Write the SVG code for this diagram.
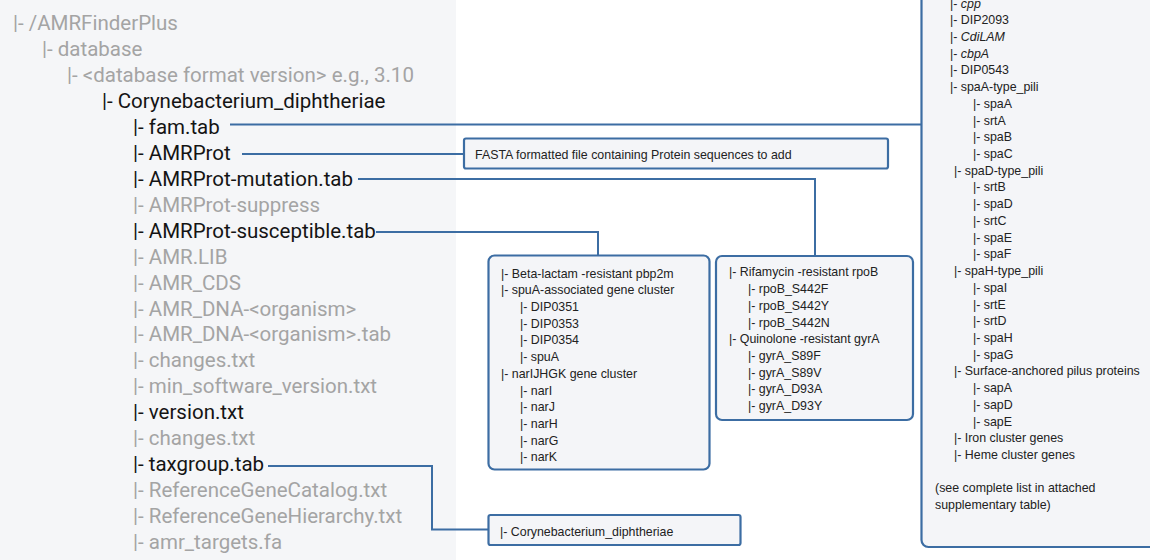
<svg xmlns="http://www.w3.org/2000/svg" width="1150" height="560" viewBox="0 0 1150 560">
<style>
.tree{font-family:Roboto,"Liberation Sans",sans-serif;font-size:20.5px}
.g{fill:#a4a4a4}
.k{fill:#141414}
.box{fill:#f4f5f8;stroke:#3c6da3;stroke-width:2.2}
.bt{font-family:"Liberation Sans",Arial,sans-serif;font-size:12.4px;fill:#222}
.conn{fill:none;stroke:#3c6da3;stroke-width:2}
</style>
<rect x="0" y="0" width="1150" height="560" fill="#ffffff"/>
<rect x="0" y="0" width="456" height="560" fill="#f5f6f8"/>

<g id="tree" class="tree">
<text class="g" x="13" y="30">|- /AMRFinderPlus</text>
<text class="g" x="42" y="56">|- database</text>
<text class="g" x="67" y="82">|- &lt;database format version&gt; e.g., 3.10</text>
<text class="k" x="102" y="108">|- Corynebacterium_diphtheriae</text>
<text class="k" x="133" y="134">|- fam.tab</text>
<text class="k" x="133" y="160">|- AMRProt</text>
<text class="k" x="133" y="186">|- AMRProt-mutation.tab</text>
<text class="g" x="133" y="212">|- AMRProt-suppress</text>
<text class="k" x="133" y="238">|- AMRProt-susceptible.tab</text>
<text class="g" x="133" y="264">|- AMR.LIB</text>
<text class="g" x="133" y="290">|- AMR_CDS</text>
<text class="g" x="133" y="316">|- AMR_DNA-&lt;organism&gt;</text>
<text class="g" x="133" y="341">|- AMR_DNA-&lt;organism&gt;.tab</text>
<text class="g" x="133" y="367">|- changes.txt</text>
<text class="g" x="133" y="393">|- min_software_version.txt</text>
<text class="k" x="133" y="419">|- version.txt</text>
<text class="g" x="133" y="445">|- changes.txt</text>
<text class="k" x="133" y="471">|- taxgroup.tab</text>
<text class="g" x="133" y="497">|- ReferenceGeneCatalog.txt</text>
<text class="g" x="133" y="523">|- ReferenceGeneHierarchy.txt</text>
<text class="g" x="133" y="549">|- amr_targets.fa</text>
</g>

<g id="connectors">
<path class="conn" d="M230 124.5 H922"/>
<path class="conn" d="M242 154 H464"/>
<path class="conn" d="M358 179 H815 V256"/>
<path class="conn" d="M376 232 H598 V256"/>
<path class="conn" d="M268 466 H432 V529.5 H489"/>
</g>

<g id="fasta-box">
<rect class="box" x="464" y="138.5" width="424" height="30" rx="2"/>
<text class="bt" x="475" y="158.5">FASTA formatted file containing Protein sequences to add</text>
</g>

<g id="susceptible-box">
<rect class="box" x="488.5" y="255.5" width="221" height="214" rx="6"/>
<text class="bt" x="501" y="277.5">|- Beta-lactam -resistant  pbp2m</text>
<text class="bt" x="501" y="294.2">|- spuA-associated  gene cluster</text>
<text class="bt" x="520" y="310.9">|- DIP0351</text>
<text class="bt" x="520" y="327.7">|- DIP0353</text>
<text class="bt" x="520" y="344.4">|- DIP0354</text>
<text class="bt" x="520" y="361.1">|- spuA</text>
<text class="bt" x="501" y="377.8">|- narIJHGK  gene cluster</text>
<text class="bt" x="520" y="394.5">|- narI</text>
<text class="bt" x="520" y="411.3">|- narJ</text>
<text class="bt" x="520" y="428">|- narH</text>
<text class="bt" x="520" y="444.7">|- narG</text>
<text class="bt" x="520" y="461.4">|- narK</text>
</g>

<g id="mutation-box">
<rect class="box" x="716" y="256" width="197" height="164" rx="6"/>
<text class="bt" x="729" y="276.3">|- Rifamycin -resistant  rpoB</text>
<text class="bt" x="748" y="293">|- rpoB_S442F</text>
<text class="bt" x="748" y="309.7">|- rpoB_S442Y</text>
<text class="bt" x="748" y="326.5">|- rpoB_S442N</text>
<text class="bt" x="729" y="343.2">|- Quinolone -resistant  gyrA</text>
<text class="bt" x="748" y="359.9">|- gyrA_S89F</text>
<text class="bt" x="748" y="376.6">|- gyrA_S89V</text>
<text class="bt" x="748" y="393.3">|- gyrA_D93A</text>
<text class="bt" x="748" y="410">|- gyrA_D93Y</text>
</g>

<g id="taxgroup-box">
<rect class="box" x="488.5" y="515" width="252" height="30" rx="2"/>
<text class="bt" x="500" y="536">|- Corynebacterium_diphtheriae</text>
</g>

<g id="fam-box">
<rect class="box" x="921.5" y="-20" width="260" height="567" rx="7"/>
<text class="bt" x="950" y="7.5">|- <tspan font-style="italic">cpp</tspan></text>
<text class="bt" x="950" y="24.2">|- DIP2093</text>
<text class="bt" x="950" y="41">|- <tspan font-style="italic">CdiLAM</tspan></text>
<text class="bt" x="950" y="57.7">|- <tspan font-style="italic">cbpA</tspan></text>
<text class="bt" x="950" y="74.4">|- DIP0543</text>
<text class="bt" x="950" y="91.1">|- spaA-type_pili</text>
<text class="bt" x="973" y="107.8">|- spaA</text>
<text class="bt" x="973" y="124.5">|- srtA</text>
<text class="bt" x="973" y="141.3">|- spaB</text>
<text class="bt" x="973" y="158">|- spaC</text>
<text class="bt" x="954" y="174.7">|- spaD-type_pili</text>
<text class="bt" x="973" y="191.4">|- srtB</text>
<text class="bt" x="973" y="208.1">|- spaD</text>
<text class="bt" x="973" y="224.9">|- srtC</text>
<text class="bt" x="973" y="241.6">|- spaE</text>
<text class="bt" x="973" y="258.3">|- spaF</text>
<text class="bt" x="954" y="275">|- spaH-type_pili</text>
<text class="bt" x="973" y="291.7">|- spaI</text>
<text class="bt" x="973" y="308.5">|- srtE</text>
<text class="bt" x="973" y="325.2">|- srtD</text>
<text class="bt" x="973" y="341.9">|- spaH</text>
<text class="bt" x="973" y="358.6">|- spaG</text>
<text class="bt" x="954" y="375.3">|- Surface-anchored  pilus  proteins</text>
<text class="bt" x="973" y="392">|- sapA</text>
<text class="bt" x="973" y="408.8">|- sapD</text>
<text class="bt" x="973" y="425.5">|- sapE</text>
<text class="bt" x="954" y="442.2">|- Iron cluster  genes</text>
<text class="bt" x="954" y="458.9">|- Heme cluster  genes</text>
<text class="bt" x="935" y="492.4">(see complete  list in attached</text>
<text class="bt" x="935" y="509">supplementary  table)</text>
</g>
</svg>
